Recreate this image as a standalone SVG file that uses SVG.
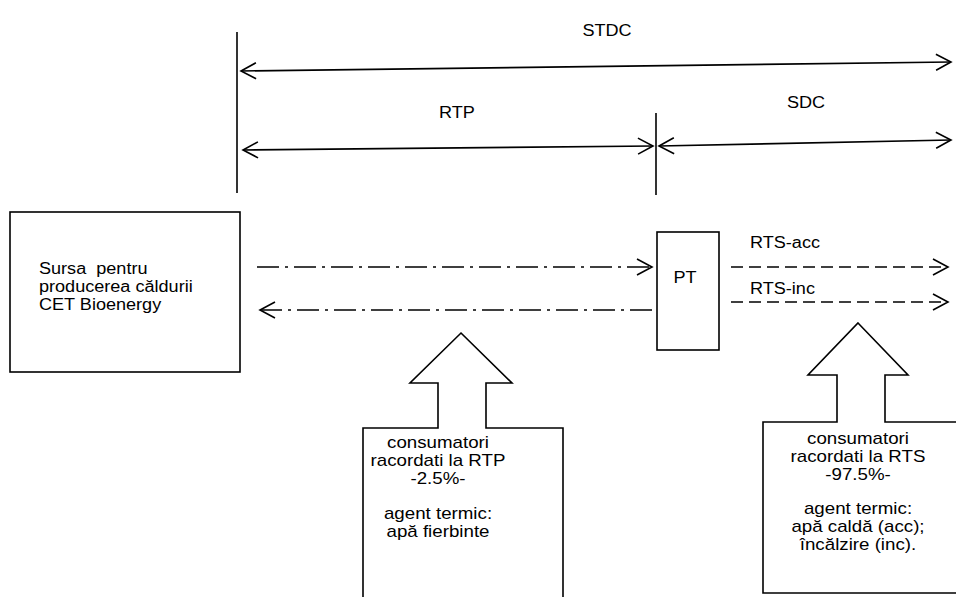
<svg xmlns="http://www.w3.org/2000/svg" width="956" height="597" viewBox="0 0 956 597">
<style>
.ln{stroke:#000;stroke-width:1.6;fill:none}
.box{stroke:#000;stroke-width:1.6;fill:#fff}
.dd{stroke:#000;stroke-width:1.6;fill:none;stroke-dasharray:22 6 3 6}
.da{stroke:#000;stroke-width:1.6;fill:none;stroke-dasharray:12 6}
text{font-family:"Liberation Sans",Arial,sans-serif;font-size:16px;fill:#000}
</style>
<defs>
<marker id="ah" viewBox="-17 -11 19 22" refX="0" refY="0" markerWidth="19" markerHeight="22" markerUnits="userSpaceOnUse" orient="auto-start-reverse">
<path d="M-15,-8 L0,0 L-15,8" fill="none" stroke="#000" stroke-width="1.6"/>
</marker>
</defs>
<rect width="956" height="597" fill="#fff"/>
<g id="dimensions">
<line class="ln" x1="237" y1="32" x2="237" y2="193"/>
<line class="ln" x1="656" y1="113" x2="656" y2="195"/>
<line class="ln" x1="241" y1="71" x2="951" y2="62" marker-start="url(#ah)" marker-end="url(#ah)"/>
<line class="ln" x1="243" y1="150" x2="653" y2="146" marker-start="url(#ah)" marker-end="url(#ah)"/>
<line class="ln" x1="659" y1="146" x2="951" y2="140" marker-start="url(#ah)" marker-end="url(#ah)"/>
<text transform="translate(607,36) scale(1.13,1)" text-anchor="middle">STDC</text>
<text transform="translate(457,118) scale(1.13,1)" text-anchor="middle">RTP</text>
<text transform="translate(806,108) scale(1.13,1)" text-anchor="middle">SDC</text>
</g>
<g id="source">
<rect class="box" x="10" y="212" width="230" height="160"/>
<text transform="translate(39,274) scale(1.13,1)"><tspan x="0" y="0">Sursa&#160; pentru</tspan><tspan x="0" y="18">producerea căldurii</tspan><tspan x="0" y="36">CET Bioenergy</tspan></text>
</g>
<g id="pt">
<rect class="box" x="657" y="232" width="62" height="118"/>
<text transform="translate(685,283) scale(1.13,1)" text-anchor="middle">PT</text>
</g>
<g id="connectors">
<line class="dd" x1="257" y1="267" x2="652" y2="267" marker-end="url(#ah)"/>
<line class="dd" x1="260" y1="310" x2="657" y2="310" marker-start="url(#ah)"/>
<line class="da" x1="731" y1="267" x2="948" y2="267" marker-end="url(#ah)"/>
<line class="da" x1="731" y1="302" x2="948" y2="302" marker-end="url(#ah)"/>
<text transform="translate(750,248) scale(1.13,1)">RTS-acc</text>
<text transform="translate(750,294) scale(1.13,1)">RTS-inc</text>
</g>
<g id="consumers-rtp">
<path class="box" d="M461,333 L512,383 L486,383 L486,428 L563,428 L563,600 L363,600 L363,428 L438,428 L438,383 L410,383 Z"/>
<text transform="translate(438,448) scale(1.17,1)" text-anchor="middle"><tspan x="0" y="0">consumatori</tspan><tspan x="0" y="18">racordati la RTP</tspan><tspan x="0" y="36">-2.5%-</tspan><tspan x="0" y="71">agent termic:</tspan><tspan x="0" y="89">apă fierbinte</tspan></text>
</g>
<g id="consumers-rts">
<path class="box" d="M858,323 L908,375 L885,375 L885,422 L960,422 L960,593 L763,593 L763,422 L837,422 L837,375 L808,375 Z"/>
<text transform="translate(858,444) scale(1.17,1)" text-anchor="middle"><tspan x="0" y="0">consumatori</tspan><tspan x="0" y="18">racordati la RTS</tspan><tspan x="0" y="36">-97.5%-</tspan><tspan x="0" y="70">agent termic:</tspan><tspan x="0" y="88">apă caldă (acc);</tspan><tspan x="0" y="106">încălzire (inc).</tspan></text>
</g>
</svg>
